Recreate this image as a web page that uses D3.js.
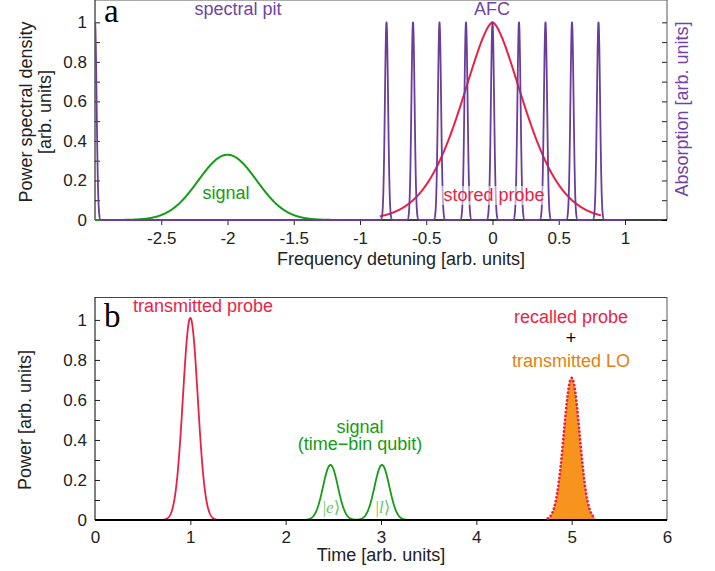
<!DOCTYPE html>
<html>
<head>
<meta charset="utf-8">
<script src="https://cdn.jsdelivr.net/npm/d3@7"></script>
<style>
  body { margin: 0; background: #fff; }
  text { font-family: "Liberation Sans", Arial, sans-serif; }
</style>
</head>
<body>
<svg width="715" height="571"></svg>
<script>
// ---- data ----
// panel a: frequency domain
var freqTicks = [-2.5, -2, -1.5, -1, -0.5, 0, 0.5, 1];
var yTicks = [0, 0.1, 0.2, 0.3, 0.4, 0.5, 0.6, 0.7, 0.8, 0.9, 1];
var afcTeeth = [-0.8, -0.6, -0.4, -0.2, 0, 0.2, 0.4, 0.6, 0.8]; // comb lines, height 1
var pitEdge = [-3];            // absorption edge of the spectral pit
var toothWidth = 0.012;        // gaussian sigma of each tooth
var afcRange = [-3, 1];        // purple trace drawn over this span
var signalA = {center: -2, height: 0.33, width: 0.22, span: [-3, -1.15]};
var storedProbe = {center: 0, height: 1, width: 0.354, power: 1.58, span: [-0.85, 0.82]};

// panel b: time domain
var timeTicks = [0, 1, 2, 3, 4, 5, 6];
var transmittedProbe = {center: 1, height: 1.01, width: 0.078, half: 0.28};
var signalBins = [2.47, 3.01];
var signalBinHeight = 0.275;
var signalBinWidth = 0.078;
var recalledProbe = {center: 5, height: 0.71, width: 0.083, half: 0.25};

var svg = d3.select("svg");

function bump(x, c, h, w, p) {
  p = p || 2;
  return h * Math.exp(-Math.pow(Math.abs(x - c) / w, p) / (p === 2 ? 2 : 1));
}
// plain hyphen for negative tick labels, like the original
var fmt = function(d) { return d3.format("~g")(d).replace("\u2212", "-"); };

var purple = "#6a3d9a", purpleText = "#7043a8", red = "#ec1f45",
    green = "#149c14", orange = "#f7941d", orangeText = "#e47f12";

// ---------------- panel a ----------------
var xa = d3.scaleLinear().domain([-3, 1.317]).range([95, 667]);
var ya = d3.scaleLinear().domain([0, 1.113]).range([220, 0]);

svg.append("clipPath").attr("id", "clipA")
  .append("rect").attr("x", 95).attr("y", 0).attr("width", 572).attr("height", 221);

var ga = svg.append("g");
var plotA = ga.append("g").attr("clip-path", "url(#clipA)");

var lineA = d3.line().x(function(d) { return xa(d[0]); }).y(function(d) { return ya(d[1]); });

// signal
var sigPts = d3.range(signalA.span[0], signalA.span[1], 0.002).map(function(x) {
  return [x, bump(x, signalA.center, signalA.height, signalA.width)];
});
plotA.append("path").attr("d", lineA(sigPts))
  .attr("fill", "none").attr("stroke", green).attr("stroke-width", 2);

// stored probe
var spPts = d3.range(storedProbe.span[0], storedProbe.span[1], 0.002).map(function(x) {
  return [x, bump(x, storedProbe.center, storedProbe.height, storedProbe.width, storedProbe.power)];
});
plotA.append("path").attr("d", lineA(spPts))
  .attr("fill", "none").attr("stroke", red).attr("stroke-width", 2);

// AFC + spectral pit absorption
var teeth = pitEdge.concat(afcTeeth);
var afcPts = d3.range(afcRange[0], afcRange[1] + 0.0001, 0.0005).map(function(x) {
  var v = d3.max(teeth, function(c) { return bump(x, c, 1, toothWidth); });
  return [x, v];
});
plotA.append("path").attr("d", lineA(afcPts))
  .attr("fill", "none").attr("stroke", purple).attr("stroke-width", 1.8)
  .attr("stroke-linejoin", "round");

// axes a
var axLeftA = d3.axisLeft(ya).tickValues(yTicks).tickSizeInner(-5).tickSizeOuter(0).tickPadding(8)
  .tickFormat(function(d) { return Math.round(d * 10) % 2 === 0 ? fmt(d) : ""; });
var axRightA = d3.axisRight(ya).tickValues(yTicks).tickSizeInner(-5).tickSizeOuter(0).tickFormat("");
var axBottomA = d3.axisBottom(xa).tickValues(freqTicks).tickSizeInner(5).tickSizeOuter(0).tickPadding(7)
  .tickFormat(fmt);

ga.append("g").attr("transform", "translate(95,0)").call(axLeftA);
ga.append("g").attr("transform", "translate(667,0)").call(axRightA);
ga.append("g").attr("transform", "translate(0,220)").call(axBottomA);

// frame a
ga.append("line").attr("x1", 95).attr("x2", 667).attr("y1", 0.5).attr("y2", 0.5).attr("stroke", "#aaa");
ga.append("line").attr("x1", 667).attr("x2", 667).attr("y1", 0).attr("y2", 220).attr("stroke", "#555");
ga.append("line").attr("x1", 95).attr("x2", 95).attr("y1", 0).attr("y2", 220).attr("stroke", "#000");
ga.append("line").attr("x1", 95).attr("x2", 667).attr("y1", 220).attr("y2", 220).attr("stroke", "#000").attr("stroke-width", 1.5);
// re-draw purple baseline on top of the axis
plotA.raise();

// labels a
ga.append("text").attr("x", 104).attr("y", 22).text("a")
  .style("font-family", "'Liberation Serif', 'Times New Roman', serif").style("font-size", "33px");
ga.append("text").attr("x", 238).attr("y", 15).attr("text-anchor", "middle")
  .attr("fill", purpleText).style("font-size", "18px").text("spectral pit");
ga.append("text").attr("x", 492).attr("y", 15).attr("text-anchor", "middle")
  .attr("fill", purpleText).style("font-size", "18px").text("AFC");
ga.append("text").attr("x", 226).attr("y", 199).attr("text-anchor", "middle")
  .attr("fill", green).style("font-size", "18px").text("signal");
ga.append("rect").attr("x", 441).attr("y", 186).attr("width", 106).attr("height", 19)
  .attr("fill", "#fff").attr("opacity", 0.55);
ga.append("text").attr("x", 494).attr("y", 201).attr("text-anchor", "middle")
  .attr("fill", red).style("font-size", "18px").text("stored probe");

ga.append("text").attr("transform", "rotate(-90)").attr("x", -112).attr("y", 32)
  .attr("text-anchor", "middle").attr("fill", "#222").style("font-size", "18px").text("Power spectral density");
ga.append("text").attr("transform", "rotate(-90)").attr("x", -112).attr("y", 51)
  .attr("text-anchor", "middle").attr("fill", "#222").style("font-size", "18px").text("[arb. units]");
ga.append("text").attr("transform", "rotate(-90)").attr("x", -109).attr("y", 688)
  .attr("text-anchor", "middle").attr("fill", purpleText).style("font-size", "18px").text("Absorption [arb. units]");
ga.append("text").attr("x", 401).attr("y", 265).attr("text-anchor", "middle")
  .attr("fill", "#222").style("font-size", "18px").text("Frequency detuning [arb. units]");

// ---------------- panel b ----------------
var xb = d3.scaleLinear().domain([0, 6]).range([95, 667]);
var yb = d3.scaleLinear().domain([0, 1.113]).range([520, 297.3]);
var gb = svg.append("g");
var lineB = d3.line().x(function(d) { return xb(d[0]); }).y(function(d) { return yb(d[1]); });

// axes b
var axLeftB = d3.axisLeft(yb).tickValues(yTicks).tickSizeInner(-5).tickSizeOuter(0).tickPadding(8)
  .tickFormat(function(d) { return Math.round(d * 10) % 2 === 0 ? fmt(d) : ""; });
var axRightB = d3.axisRight(yb).tickValues(yTicks).tickSizeInner(-5).tickSizeOuter(0).tickFormat("");
var axBottomB = d3.axisBottom(xb).tickValues(timeTicks).tickSizeInner(5).tickSizeOuter(0).tickPadding(6)
  .tickFormat(fmt);

gb.append("g").attr("transform", "translate(95,0)").call(axLeftB);
gb.append("g").attr("transform", "translate(667,0)").call(axRightB);
var bAx = gb.append("g").attr("transform", "translate(0,520)").call(axBottomB);
bAx.selectAll(".tick line").filter(function(d) { return d === 0 || d === 6; }).remove();

gb.append("line").attr("x1", 95).attr("x2", 667).attr("y1", 297.5).attr("y2", 297.5).attr("stroke", "#444");
gb.append("line").attr("x1", 667).attr("x2", 667).attr("y1", 297).attr("y2", 520).attr("stroke", "#555");
gb.append("line").attr("x1", 95).attr("x2", 95).attr("y1", 297).attr("y2", 520).attr("stroke", "#000");

// transmitted probe
var tpPts = d3.range(transmittedProbe.center - transmittedProbe.half, transmittedProbe.center + transmittedProbe.half, 0.002)
  .map(function(x) { return [x, bump(x, transmittedProbe.center, transmittedProbe.height, transmittedProbe.width)]; });
gb.append("path").attr("d", lineB(tpPts)).attr("fill", "none").attr("stroke", red).attr("stroke-width", 1.8);

// time-bin signal
var sbPts = d3.range(signalBins[0] - 0.28, signalBins[1] + 0.28, 0.002).map(function(x) {
  return [x, d3.sum(signalBins, function(c) { return bump(x, c, signalBinHeight, signalBinWidth); })];
});
gb.append("path").attr("d", lineB(sbPts)).attr("fill", "none").attr("stroke", green).attr("stroke-width", 1.8);

// recalled probe + LO
var rpPts = d3.range(recalledProbe.center - recalledProbe.half, recalledProbe.center + recalledProbe.half + 0.001, 0.002)
  .map(function(x) { return [x, bump(x, recalledProbe.center, recalledProbe.height, recalledProbe.width)]; });
var areaB = d3.area().x(function(d) { return xb(d[0]); }).y0(yb(0)).y1(function(d) { return yb(d[1]); });
gb.append("path").attr("d", areaB(rpPts)).attr("fill", orange);

gb.append("line").attr("x1", 95).attr("x2", 667).attr("y1", 520).attr("y2", 520).attr("stroke", "#000").attr("stroke-width", 2);

gb.append("path").attr("d", lineB(rpPts)).attr("fill", "none").attr("stroke", red)
  .attr("stroke-width", 2.8).attr("stroke-linecap", "round").attr("stroke-dasharray", "0 3.9");

// labels b
gb.append("text").attr("x", 104).attr("y", 327).text("b")
  .style("font-family", "'Liberation Serif', 'Times New Roman', serif").style("font-size", "33px");
gb.append("text").attr("x", 203).attr("y", 312).attr("text-anchor", "middle")
  .attr("fill", red).style("font-size", "18px").text("transmitted probe");
gb.append("text").attr("x", 360).attr("y", 433).attr("text-anchor", "middle")
  .attr("fill", green).style("font-size", "18px").text("signal");
gb.append("text").attr("x", 360).attr("y", 450).attr("text-anchor", "middle")
  .attr("fill", green).style("font-size", "18px").text("(time\u2212bin qubit)");
gb.append("text").attr("x", 571).attr("y", 323).attr("text-anchor", "middle")
  .attr("fill", red).style("font-size", "18px").text("recalled probe");
gb.append("text").attr("x", 571).attr("y", 344).attr("text-anchor", "middle")
  .attr("fill", "#000").style("font-size", "18px").text("+");
gb.append("text").attr("x", 571).attr("y", 367).attr("text-anchor", "middle")
  .attr("fill", orangeText).style("font-size", "18px").text("transmitted LO");

var kets = [["e", signalBins[0]], ["l", signalBins[1]]];
kets.forEach(function(k) {
  var t = gb.append("text").attr("x", xb(k[1]) + 1).attr("y", 513).attr("text-anchor", "middle")
    .attr("fill", "#6cc36c").style("font-size", "17px")
    .style("font-family", "'Liberation Serif', 'DejaVu Serif', serif");
  t.append("tspan").text("|");
  t.append("tspan").style("font-style", "italic").text(k[0]);
  t.append("tspan").text("\u27E9");
});

gb.append("text").attr("transform", "rotate(-90)").attr("x", -420).attr("y", 31)
  .attr("text-anchor", "middle").attr("fill", "#222").style("font-size", "18px").text("Power [arb. units]");
gb.append("text").attr("x", 381).attr("y", 561).attr("text-anchor", "middle")
  .attr("fill", "#222").style("font-size", "18px").text("Time [arb. units]");

// axis text styling
svg.selectAll(".tick text").style("font-size", "17px").attr("fill", "#222");
svg.selectAll(".domain").remove();
svg.selectAll(".tick line").attr("stroke", "#222");
</script>
</body>
</html>
